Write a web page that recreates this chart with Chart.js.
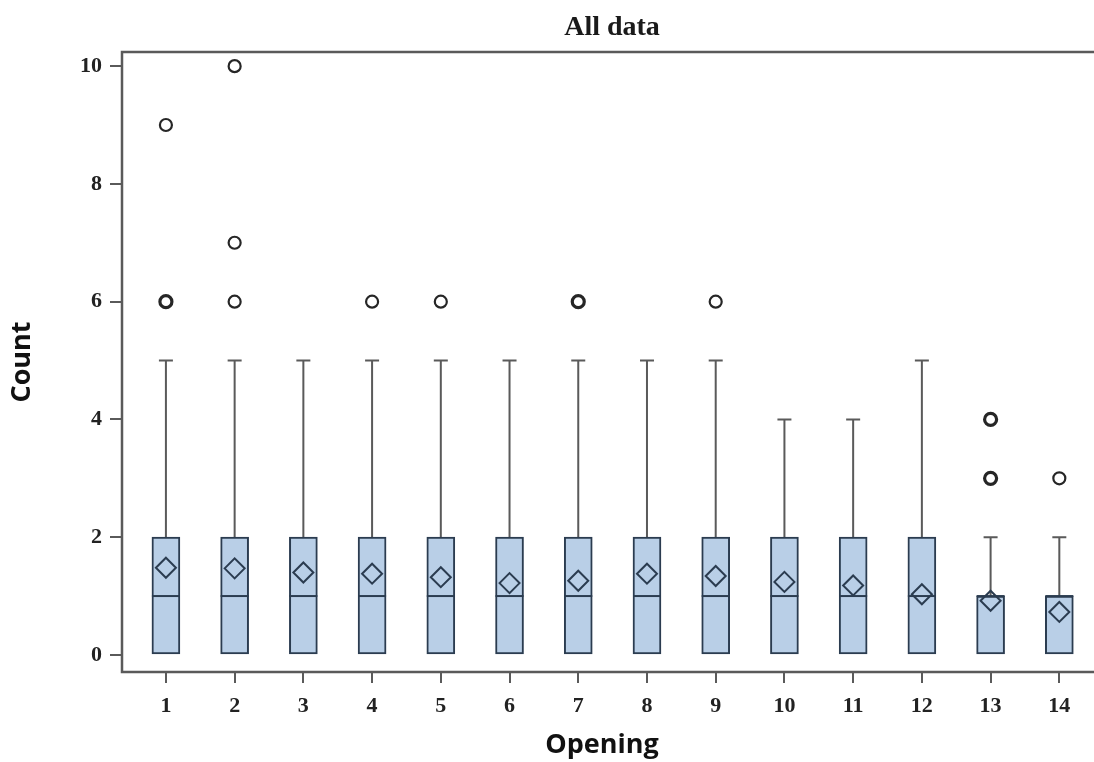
<!DOCTYPE html>
<html>
<head>
<meta charset="utf-8" />
<script src="https://cdn.jsdelivr.net/npm/chart.js@4/dist/chart.umd.min.js"></script>
<style>
  html, body { margin: 0; padding: 0; background: #fff; overflow: hidden; }
  #wrap { width: 1094px; height: 762px; }
  canvas { display: block; }
</style>
</head>
<body>
<div id="wrap"><canvas id="canvas"></canvas></div>
<script>
  // box plot values per opening
  var openings = [1, 2, 3, 4, 5, 6, 7, 8, 9, 10, 11, 12, 13, 14];
  var q1Values = [0, 0, 0, 0, 0, 0, 0, 0, 0, 0, 0, 0, 0, 0];
  var q3Values = [2, 2, 2, 2, 2, 2, 2, 2, 2, 2, 2, 2, 1, 1];
  var medians = [1, 1, 1, 1, 1, 1, 1, 1, 1, 1, 1, 1, 1, 1];
  var whiskerLow = [0, 0, 0, 0, 0, 0, 0, 0, 0, 0, 0, 0, 0, 0];
  var whiskerHigh = [5, 5, 5, 5, 5, 5, 5, 5, 5, 4, 4, 5, 2, 2];
  var means = [1.48, 1.47, 1.4, 1.38, 1.32, 1.22, 1.26, 1.38, 1.34, 1.24, 1.18, 1.03, 0.92, 0.73];
  // outliers, repeated values get a heavier ring
  var outliers = [
    [6, 6, 9],
    [6, 7, 10],
    [],
    [6],
    [6],
    [],
    [6, 6],
    [],
    [6],
    [],
    [],
    [],
    [3, 3, 4, 4],
    [3],
  ];
  var yTicks = [0, 2, 4, 6, 8, 10];
  var chartTitle = "All data";

  var BOX_FILL = "#b9cfe7";
  var BOX_LINE = "#2b3c50";
  var AXIS_LINE = "#5a5a5a";

  var boxData = openings.map((o, i) => ({ x: o, y: [q1Values[i], q3Values[i]] }));
  var meanData = openings.map((o, i) => ({ x: o, y: means[i] }));
  var outlierData = [];
  openings.forEach((o, i) => {
    var seen = {};
    outliers[i].forEach((v) => (seen[v] = (seen[v] || 0) + 1));
    Object.keys(seen).forEach((v) => outlierData.push({ x: o, y: +v, n: seen[v] }));
  });

  // whiskers, caps, medians, frame, x ticks and a title centred on the plot
  var boxExtras = {
    id: "boxExtras",
    beforeDatasetsDraw(chart) {
      var ctx = chart.ctx;
      var xs = chart.scales.x;
      var ys = chart.scales.y;
      ctx.save();
      ctx.strokeStyle = AXIS_LINE;
      ctx.lineWidth = 2;
      openings.forEach((o, i) => {
        var px = xs.getPixelForValue(o);
        var top = ys.getPixelForValue(whiskerHigh[i]);
        var q3 = ys.getPixelForValue(q3Values[i]);
        ctx.beginPath();
        ctx.moveTo(px, q3);
        ctx.lineTo(px, top);
        ctx.moveTo(px - 7, top);
        ctx.lineTo(px + 7, top);
        ctx.stroke();
      });
      ctx.restore();
    },
    afterDatasetDraw(chart, args) {
      if (args.index !== 0) return;
      var ctx = chart.ctx;
      var xs = chart.scales.x;
      var ys = chart.scales.y;
      var meta = chart.getDatasetMeta(0);
      ctx.save();
      ctx.strokeStyle = BOX_LINE;
      ctx.lineWidth = 2;
      openings.forEach((o, i) => {
        var half = meta.data[i].width / 2;
        var px = xs.getPixelForValue(o);
        var py = ys.getPixelForValue(medians[i]);
        ctx.beginPath();
        ctx.moveTo(px - half, py);
        ctx.lineTo(px + half, py);
        ctx.stroke();
      });
      ctx.restore();
    },
    afterDraw(chart) {
      var ctx = chart.ctx;
      var a = chart.chartArea;
      var xs = chart.scales.x;
      ctx.save();
      ctx.strokeStyle = AXIS_LINE;
      ctx.lineWidth = 2.5;
      ctx.beginPath();
      ctx.moveTo(chart.width, a.top);
      ctx.lineTo(a.left, a.top);
      ctx.lineTo(a.left, a.bottom);
      ctx.lineTo(chart.width, a.bottom);
      ctx.stroke();

      ctx.lineWidth = 2;
      ctx.beginPath();
      openings.forEach((o) => {
        var px = Math.round(xs.getPixelForValue(o));
        ctx.moveTo(px, a.bottom);
        ctx.lineTo(px, a.bottom + 11);
      });
      ctx.stroke();

      ctx.fillStyle = "#1a1a1a";
      ctx.font = "bold 28px 'Liberation Serif', 'DejaVu Serif', serif";
      ctx.textAlign = "center";
      ctx.textBaseline = "middle";
      ctx.fillText(chartTitle, 612, 28);
      ctx.restore();
    },
  };

  var serifTick = { family: "'Liberation Serif', 'DejaVu Serif', serif", size: 22, weight: "bold" };
  var sansTitle = { family: "'Open Sans', 'Noto Sans', sans-serif", size: 27, weight: "bold" };

  new Chart(document.getElementById("canvas").getContext("2d"), {
    type: "bar",
    data: {
      datasets: [
        {
          type: "bar",
          data: boxData,
          backgroundColor: BOX_FILL,
          borderColor: BOX_LINE,
          borderWidth: 2,
          borderSkipped: false,
          barThickness: 28,
          order: 3,
        },
        {
          type: "scatter",
          data: meanData,
          pointStyle: "rectRot",
          pointRadius: 10,
          pointBackgroundColor: "rgba(0,0,0,0)",
          pointBorderColor: BOX_LINE,
          pointBorderWidth: 2,
          order: 1,
        },
        {
          type: "scatter",
          data: outlierData,
          pointStyle: "circle",
          pointRadius: 6,
          pointBackgroundColor: "#fff",
          pointBorderColor: "#262626",
          pointBorderWidth: (c) => (c.raw && c.raw.n > 1 ? 3.2 : 2.2),
          order: 2,
        },
      ],
    },
    options: {
      responsive: true,
      maintainAspectRatio: false,
      animation: false,
      layout: { padding: { left: 0, right: 0, top: 52, bottom: 0 } },
      plugins: {
        legend: { display: false },
        tooltip: { enabled: false },
        title: { display: false },
      },
      scales: {
        x: {
          type: "linear",
          min: 0.361,
          max: 14.33,
          offset: false,
          afterBuildTicks(scale) {
            scale.ticks = openings.map((v) => ({ value: v }));
          },
          afterFit(scale) {
            scale.height = 90;
          },
          grid: { display: false },
          border: { display: false },
          ticks: { color: "#222", font: serifTick, padding: 13, maxRotation: 0, autoSkip: false },
          title: { display: true, text: "Opening", color: "#111", font: sansTitle, padding: { top: 0, bottom: 0 } },
        },
        y: {
          type: "linear",
          min: -0.29,
          max: 10.24,
          afterBuildTicks(scale) {
            scale.ticks = yTicks.map((v) => ({ value: v }));
          },
          afterFit(scale) {
            scale.width = 122;
          },
          grid: { display: true, drawOnChartArea: false, drawTicks: true, tickLength: 12, color: AXIS_LINE, lineWidth: 2 },
          border: { display: false },
          ticks: { color: "#222", font: serifTick, padding: 8 },
          title: { display: true, text: "Count", color: "#111", font: sansTitle, padding: { top: 6, bottom: 0 } },
        },
      },
    },
    plugins: [boxExtras],
  });
</script>
</body>
</html>
